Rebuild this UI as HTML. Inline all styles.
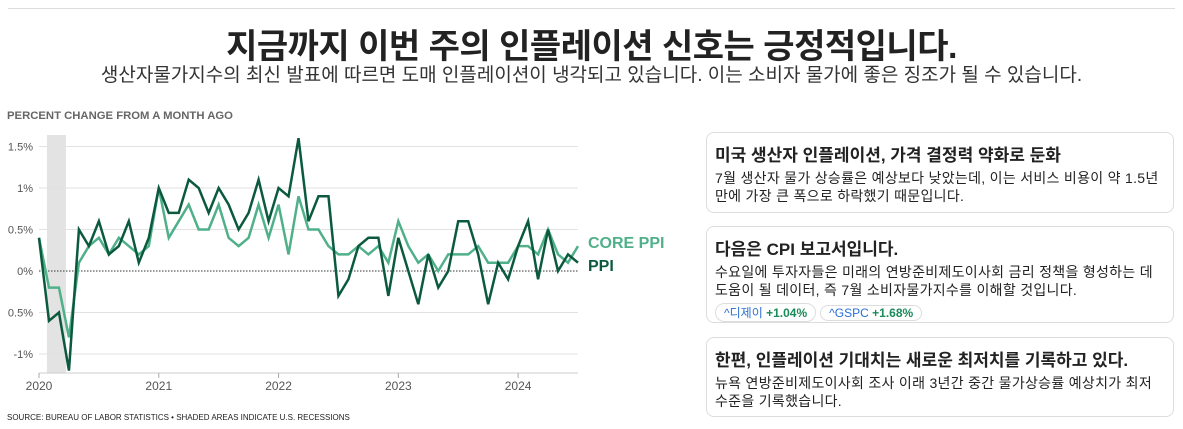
<!DOCTYPE html>
<html><head><meta charset="utf-8">
<style>
body{margin:0;width:1183px;height:429px;background:#fff;font-family:"Liberation Sans","Noto Sans CJK KR",sans-serif;position:relative;overflow:hidden;color:#222}
.topline{position:absolute;left:8px;right:8px;top:8px;border-top:1px solid #ddd}
h1{position:absolute;top:19px;left:0;width:1183px;text-align:center;margin:0;font-size:34px;font-weight:bold;color:#222;letter-spacing:-0.5px}
.sub{position:absolute;top:60px;left:0;width:1183px;text-align:center;font-size:19px;color:#333}
.card{position:absolute;left:706px;width:468px;border:1px solid #ddd;border-radius:8px;box-sizing:border-box;padding:8px 4px 8px 8px}
.card h3{margin:0 0 3px;font-size:17px;font-weight:bold;color:#222}
.card p{margin:0;font-size:14px;line-height:18px;color:#222;letter-spacing:0.3px;word-break:keep-all}
.pill{display:inline-block;border:1px solid #ddd;border-radius:10px;padding:0 8px;font-size:12px;margin-top:4px;margin-right:4px}
.pill .t{color:#2a6fd6}.pill .v{color:#1a8a5a;font-weight:bold}
</style></head><body>
<div class="topline"></div>
<h1>지금까지 이번 주의 인플레이션 신호는 긍정적입니다.</h1>
<div class="sub">생산자물가지수의 최신 발표에 따르면 도매 인플레이션이 냉각되고 있습니다. 이는 소비자 물가에 좋은 징조가 될 수 있습니다.</div>
<svg id="chart" width="700" height="429" style="position:absolute;left:0;top:0"></svg>
<div class="card" style="top:132px;height:81px">
<h3>미국 생산자 인플레이션, 가격 결정력 약화로 둔화</h3>
<p>7월 생산자 물가 상승률은 예상보다 낮았는데, 이는 서비스 비용이 약 1.5년 만에 가장 큰 폭으로 하락했기 때문입니다.</p></div>
<div class="card" style="top:226px;height:97px">
<h3>다음은 CPI 보고서입니다.</h3>
<p>수요일에 투자자들은 미래의 연방준비제도이사회 금리 정책을 형성하는 데 도움이 될 데이터, 즉 7월 소비자물가지수를 이해할 것입니다.</p>
<span class="pill"><span class="t">^디제이</span> <span class="v">+1.04%</span></span><span class="pill"><span class="t">^GSPC</span> <span class="v">+1.68%</span></span></div>
<div class="card" style="top:337px;height:80px">
<h3>한편, 인플레이션 기대치는 새로운 최저치를 기록하고 있다.</h3>
<p>뉴욕 연방준비제도이사회 조사 이래 3년간 중간 물가상승률 예상치가 최저 수준을 기록했습니다.</p></div>
<script>
const ppi=[0.4,-0.6,-0.5,-1.2,0.5,0.3,0.6,0.2,0.3,0.6,0.1,0.4,1.0,0.7,0.7,1.1,1.0,0.7,1.0,0.8,0.5,0.7,1.1,0.6,1.0,0.9,1.6,0.6,0.9,0.9,-0.3,-0.1,0.3,0.4,0.4,-0.3,0.4,0.0,-0.4,0.2,-0.2,0.0,0.6,0.6,0.2,-0.4,0.1,-0.1,0.3,0.6,-0.1,0.5,0.0,0.2,0.1];
const core=[0.4,-0.2,-0.2,-0.8,0.1,0.3,0.4,0.2,0.4,0.3,0.2,0.3,1.0,0.4,0.6,0.8,0.5,0.5,0.8,0.4,0.3,0.4,0.8,0.4,0.8,0.2,0.9,0.5,0.5,0.3,0.2,0.2,0.3,0.2,0.3,0.1,0.6,0.3,0.1,0.2,0.0,0.2,0.2,0.2,0.3,0.1,0.1,0.1,0.3,0.3,0.2,0.5,0.2,0.1,0.3];
const yTicks=[1.5,1,0.5,0,-0.5,-1];
const yTickLabels=["1.5%","1%","0.5%","0%","0.5%","-1%"];
const years=[2020,2021,2022,2023,2024];
const recession=[1,2.9];
const svg=document.getElementById('chart');const NS='http://www.w3.org/2000/svg';
const MW=(578-39)/54;
const x=m=>39+m*MW;const y=v=>271-v*83;
function mk(t,a,name){const e=document.createElementNS(NS,t);for(const k in a)e.setAttribute(k,a[k]);


svg.appendChild(e);return e;}
let t=mk('text',{x:7,y:119,'font-size':11.3,'font-weight':'bold',fill:'#666'},'y-axis-title');t.textContent='PERCENT CHANGE FROM A MONTH AGO';
mk('rect',{x:x(recession[0])-2,y:135,width:x(recession[1])-x(recession[0]),height:238,fill:'#e3e3e3'},'recession-shade');
yTicks.forEach((v,i)=>{if(v!==0)mk('line',{x1:39,x2:578,y1:y(v),y2:y(v),stroke:'#e2e2e2','stroke-width':1},'gridline');
const l=mk('text',{x:33,y:y(v)+4,'font-size':11,fill:'#555','text-anchor':'end'},'y-tick-label');l.textContent=yTickLabels[i];});
mk('line',{x1:39,x2:578,y1:y(0),y2:y(0),stroke:'#333','stroke-width':1,'stroke-dasharray':'1.5,1.5'},'zero-line');
mk('line',{x1:39,x2:578,y1:373,y2:373,stroke:'#ccc','stroke-width':1},'x-axis');
years.forEach((yr,i)=>{const xx=x(i*12);mk('line',{x1:xx,x2:xx,y1:373,y2:378,stroke:'#aaa'},'x-tick');
const l=mk('text',{x:xx,y:390,'font-size':12,fill:'#555','text-anchor':'middle'},'x-tick-label');l.textContent=yr;});
function line(d,c,n){mk('polyline',{points:d.map((v,i)=>x(i)+','+y(v)).join(' '),fill:'none',stroke:c,'stroke-width':2.5,'stroke-linejoin':'miter'},n);}
line(core,'#4fb08a','core-ppi-line');line(ppi,'#0b5a3e','ppi-line');
t=mk('text',{x:588,y:248,'font-size':16,'font-weight':'bold',fill:'#4fb08a'},'core-ppi-label');t.textContent='CORE PPI';
t=mk('text',{x:588,y:271,'font-size':16,'font-weight':'bold',fill:'#0b5a3e'},'ppi-label');t.textContent='PPI';
t=mk('text',{x:7,y:420,'font-size':8,fill:'#222'},'source-note');t.textContent='SOURCE:  BUREAU OF LABOR STATISTICS • SHADED AREAS INDICATE U.S. RECESSIONS';
</script>
</body></html>
